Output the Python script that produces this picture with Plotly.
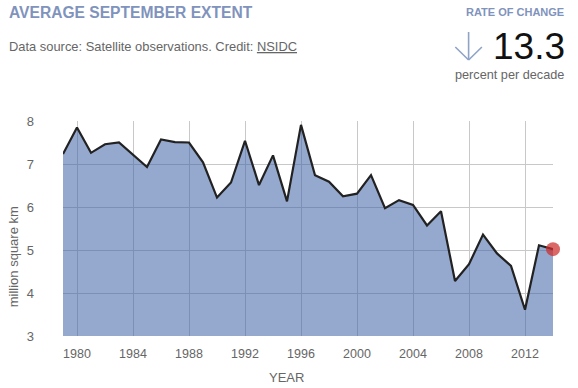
import plotly.graph_objects as go

years = list(range(1979, 2015))
extent = [7.23, 7.85, 7.26, 7.46, 7.50, 7.21, 6.93, 7.57, 7.51, 7.50,
          7.04, 6.22, 6.57, 7.54, 6.51, 7.20, 6.13, 7.91, 6.74, 6.59,
          6.25, 6.31, 6.74, 5.97, 6.16, 6.05, 5.57, 5.90, 4.28, 4.67,
          5.36, 4.92, 4.63, 3.61, 5.11, 5.02]
x_ticks = [1980, 1984, 1988, 1992, 1996, 2000, 2004, 2008, 2012]
y_ticks = [3, 4, 5, 6, 7, 8]

W, H = 578, 388
L, R, T, B = 62.7, 25.3, 121, 52
PW, PH = W - L - R, H - T - B

def px(x):
    return (x - L) / PW

def py(y):
    return (H - B - y) / PH

FONT = "Liberation Sans, Arial, sans-serif"
TITLE_C = "#7f93bd"
GRAY = "#666666"
ARROW_C = "#8fa3c8"

fig = go.Figure()
fig.add_trace(go.Scatter(
    x=years, y=extent, mode="lines",
    line=dict(color="#222222", width=2.2),
    fill="tozeroy", fillcolor="rgba(62,98,168,0.55)",
    hoverinfo="skip", showlegend=False))
fig.add_trace(go.Scatter(
    x=[years[-1]], y=[extent[-1]], mode="markers",
    marker=dict(size=14, color="rgba(205,45,45,0.72)"),
    cliponaxis=False, showlegend=False))

# thin down-arrow icon next to the rate of change
arrow_lines = [((468.3, 32), (468.3, 60)), ((455, 47), (468.3, 60)),
               ((481.6, 47), (468.3, 60))]
shapes = [dict(type="line", xref="paper", yref="paper",
               x0=px(a[0]), y0=py(a[1]), x1=px(b[0]), y1=py(b[1]),
               line=dict(color=ARROW_C, width=1.6))
          for a, b in arrow_lines]

fig.update_layout(
    width=W, height=H,
    margin=dict(l=L, r=R, t=T, b=B, pad=0),
    paper_bgcolor="white", plot_bgcolor="white",
    font=dict(family=FONT, color=GRAY, size=12),
    shapes=shapes,
    xaxis=dict(range=[1979, 2014], tickvals=x_ticks, showgrid=True,
               gridcolor="#c8c8c8", gridwidth=1, zeroline=False,
               showline=False, ticks="", ticklabelstandoff=8,
               tickfont=dict(size=12.5, color=GRAY)),
    yaxis=dict(range=[3, 8], tickvals=y_ticks, showgrid=True,
               gridcolor="#c8c8c8", gridwidth=1, zeroline=False,
               showline=False, ticks="", ticklabelstandoff=28,
               tickfont=dict(size=13, color=GRAY)),
    annotations=[
        dict(text="<b>AVERAGE SEPTEMBER EXTENT</b>", x=px(7), y=py(13),
             xref="paper", yref="paper", xanchor="left", yanchor="middle",
             showarrow=False, font=dict(size=15.6, color=TITLE_C, family=FONT)),
        dict(text="Data source: Satellite observations. Credit: <u>NSIDC</u>",
             x=px(7), y=py(47), xref="paper", yref="paper",
             xanchor="left", yanchor="middle", showarrow=False,
             font=dict(size=12.9, color=GRAY, family=FONT)),
        dict(text="<b>RATE OF CHANGE</b>", x=px(566), y=py(12),
             xref="paper", yref="paper", xanchor="right", yanchor="middle",
             showarrow=False, font=dict(size=11, color=TITLE_C, family=FONT)),
        dict(text="13.3", x=px(567), y=py(47), xref="paper", yref="paper",
             xanchor="right", yanchor="middle", showarrow=False,
             font=dict(size=37, color="#111111", family=FONT)),
        dict(text="percent per decade", x=px(566), y=py(75),
             xref="paper", yref="paper", xanchor="right", yanchor="middle",
             showarrow=False, font=dict(size=12.7, color=GRAY, family=FONT)),
        dict(text="million square km", x=px(13), y=py(257),
             xref="paper", yref="paper", xanchor="center", yanchor="middle",
             textangle=-90, showarrow=False,
             font=dict(size=13, color=GRAY, family=FONT)),
        dict(text="YEAR", x=px(286), y=py(377), xref="paper", yref="paper",
             xanchor="center", yanchor="middle", showarrow=False,
             font=dict(size=13, color=GRAY, family=FONT)),
    ],
)

fig.write_html("out.html", config={"displayModeBar": False},
               post_script="document.body.style.margin='0';"
                           "document.body.style.padding='0';")
